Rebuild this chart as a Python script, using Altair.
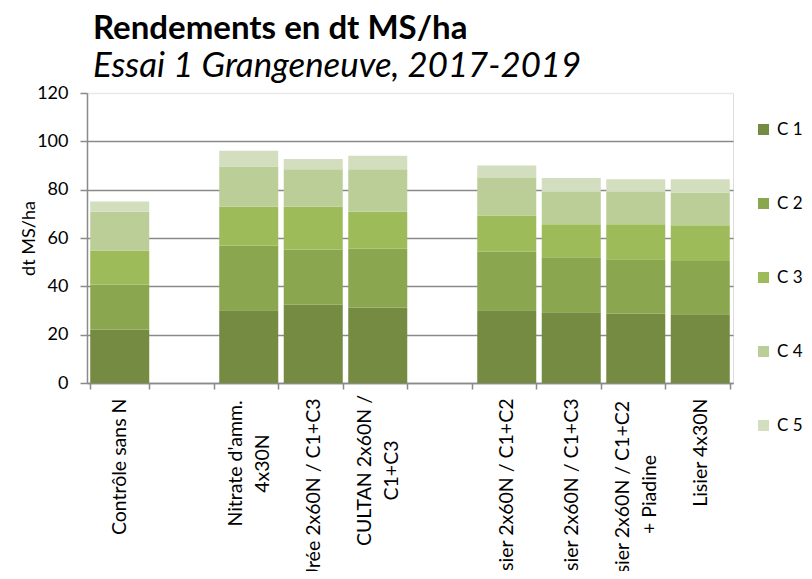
import altair as alt
import pandas as pd

# Categories in display order (gap slots are empty bands)
categories = [
    "Contrôle sans N",
    "gap1",
    "Nitrate d'amm.|4x30N",
    "Urée 2x60N / C1+C3",
    "CULTAN 2x60N /|C1+C3",
    "gap2",
    "Lisier 2x60N / C1+C2",
    "Lisier 2x60N / C1+C3",
    "Lisier 2x60N / C1+C2|+ Piadine",
    "Lisier 4x30N",
]
treatments = [c for c in categories if not c.startswith("gap")]

series = ["C 1", "C 2", "C 3", "C 4", "C 5"]
c1 = [22.1, 30.1, 32.4, 31.2, 30.1, 29.3, 28.8, 28.4]
c2 = [18.7, 26.7, 22.8, 24.4, 24.3, 22.7, 22.4, 22.1]
c3 = [14.0, 16.1, 17.7, 15.3, 14.9, 13.7, 14.5, 14.8]
c4 = [16.1, 16.7, 15.6, 17.6, 15.5, 13.5, 13.5, 13.5]
c5 = [4.2, 6.5, 4.2, 5.5, 5.2, 5.6, 5.1, 5.5]
values = [c1, c2, c3, c4, c5]

colors = ["#758B42", "#8AA64E", "#9EBB5A", "#BBCE98", "#D2DEBE"]
y_ticks = [0, 20, 40, 60, 80, 100, 120]

rows = []
for si, (s, vals) in enumerate(zip(series, values)):
    for t, v in zip(treatments, vals):
        rows.append({"cat": t, "serie": s, "val": v, "ord": si})
df = pd.DataFrame(rows)

FONT = "Lato"
GRID = "#8a8a8a"

label_expr = (
    "!isString(datum.value) || indexof(datum.value, 'gap') == 0 ? '' : "
    "split(datum.value, '|')"
)
is_multi = "isString(datum.value) && indexof(datum.value, '|') >= 0"
t_nitrate = "isString(datum.value) && indexof(datum.value, 'Nitrate') == 0"
t_cultan = "isString(datum.value) && indexof(datum.value, 'CULTAN') == 0"
t_piadine = "isString(datum.value) && indexof(datum.value, 'Piadine') > 0"

chart = alt.Chart(df).mark_bar().encode(
    x=alt.X(
        "cat:N",
        scale=alt.Scale(domain=categories, paddingInner=0.085, paddingOuter=0.05),
        axis=alt.Axis(
            title=None,
            labelAngle=-90,
            labelAlign={"condition": {"test": is_multi, "value": "center"}, "value": "right"},
            labelBaseline="middle",
            labelExpr=label_expr,
            tickBand="extent",
            labelFont=FONT,
            labelFontSize=19.5,
            labelColor="black",
            labelLineHeight=27,
            labelLimit=400,
            labelOverlap=False,
            labelPadding={
                "condition": [
                    {"test": t_nitrate, "value": 74},
                    {"test": t_cultan, "value": 81},
                    {"test": t_piadine, "value": 105},
                ],
                "value": 9,
            },
            labelOffset={"condition": {"test": is_multi, "value": -13.5}, "value": 0},
            tickSize=6,
            tickColor=GRID,
            domainColor=GRID,
            domainWidth=1.5,
            tickWidth=1.5,
            grid=False,
        ),
    ),
    y=alt.Y(
        "val:Q",
        stack="zero",
        scale=alt.Scale(domain=[0, 120], nice=False),
        axis=alt.Axis(
            values=y_ticks,
            title="dt MS/ha",
            titleFont=FONT,
            titleFontSize=18,
            titleFontWeight="normal",
            titleColor="black",
            titlePadding=-2,
            labelFont=FONT,
            labelFontSize=18,
            labelColor="black",
            labelPadding=12,
            tickSize=7,
            tickColor=GRID,
            tickWidth=1.5,
            domainColor=GRID,
            domainWidth=1.5,
            grid=True,
            gridColor={"condition": {"test": "datum.value == 120", "value": "#e8e8e8"}, "value": GRID},
            gridWidth=1.5,
        ),
    ),
    color=alt.Color(
        "serie:N",
        scale=alt.Scale(domain=series, range=colors),
        legend=alt.Legend(
            title=None,
            orient="none",
            legendX=668,
            legendY=28,
            symbolType="square",
            symbolSize=121,
            symbolStrokeWidth=0,
            labelFont=FONT,
            labelFontSize=17,
            labelColor="black",
            labelOffset=5,
            rowPadding=56,
            padding=0,
        ),
    ),
    order=alt.Order("ord:Q", sort="ascending"),
).properties(
    width=646,
    height=290,
    padding={"left": 79, "top": 85, "right": 70, "bottom": 188},
    autosize=alt.AutoSizeParams(type="none"),
    title=alt.TitleParams(
        text="Rendements en dt MS/ha",
        subtitle="Essai 1 Grangeneuve, 2017-2019",
        anchor="start",
        frame="group",
        font=FONT,
        fontSize=33,
        fontWeight="bold",
        color="black",
        subtitleFont=FONT,
        subtitleFontSize=34.8,
        subtitleFontStyle="italic",
        subtitleColor="black",
        subtitlePadding=4,
        offset=0,
        dx=6,
    ),
).configure_view(stroke="#e4e4e4", strokeWidth=1.5).configure(background="white")

chart.save("out.html", embed_options={"renderer": "svg", "actions": False})
